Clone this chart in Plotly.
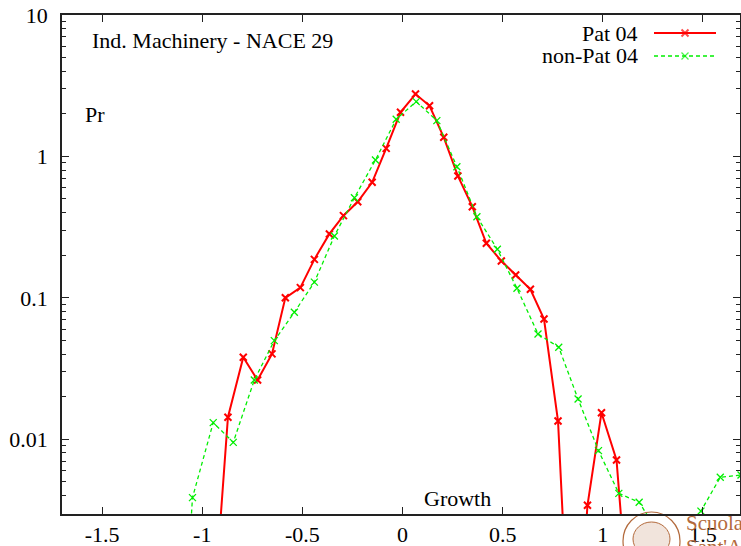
import plotly.graph_objects as go

# ---------------- data ----------------
pat_x = [-0.9405, -0.8715, -0.795, -0.7235, -0.6515, -0.585, -0.51, -0.44, -0.365, -0.295,
         -0.2235, -0.1515, -0.0815, -0.01, 0.065, 0.135, 0.206, 0.2765, 0.3485, 0.4185,
         0.4935, 0.565, 0.6385, 0.7065, 0.7765, 0.85, 0.9235, 0.9935, 1.0685, 1.14]
pat_y = [0.00065, 0.0143, 0.0380, 0.0262, 0.0401, 0.100, 0.118, 0.187, 0.283, 0.381,
         0.478, 0.656, 1.14, 2.05, 2.76, 2.28, 1.365, 0.727, 0.441, 0.243,
         0.182, 0.145, 0.1148, 0.0708, 0.01345, 0.0001, 0.00341, 0.0154, 0.00713, 0.00038]

nonpat_x = [-1.15, -1.0485, -0.945, -0.845, -0.74, -0.64, -0.54, -0.44, -0.34, -0.24,
            -0.135, -0.0315, 0.0685, 0.1715, 0.2715, 0.3715, 0.4735, 0.5715, 0.6765, 0.78,
            0.8765, 0.9785, 1.08, 1.1815, 1.285, 1.385, 1.49, 1.5865, 1.69]
nonpat_y = [0.00002, 0.00386, 0.0131, 0.0095, 0.0262, 0.0498, 0.079, 0.129, 0.2735, 0.5105,
            0.943, 1.83, 2.44, 1.79, 0.846, 0.3746, 0.2203, 0.1167, 0.0555, 0.0447,
            0.01925, 0.0083, 0.00414, 0.00358, 0.0021, 0.0017, 0.0031, 0.00538, 0.00558]

x_tickvals = [-1.5, -1, -0.5, 0, 0.5, 1, 1.5]
x_ticktext = ["-1.5", "-1", "-0.5", "0", "0.5", "1", "1.5"]
y_tickvals = [0.01, 0.1, 1, 10]
y_ticktext = ["0.01", "0.1", "1", "10"]

series_names = ["Pat 04", "non-Pat 04"]
title_text = "Ind. Machinery - NACE 29"
ylabel_text = "Pr"
xlabel_text = "Growth"

# ---------------- layout geometry (pixels) ----------------
W, H = 741, 546
PL, PR, PT, PB = 62, 740, 15, 514
FONT = "Liberation Serif, Times New Roman, DejaVu Serif, serif"
RED = "#ff0000"
GREEN = "#00ee00"
BROWN = "#b36a3c"


def pxx(x):
    return (x - PL) / (PR - PL)


def pxy(y):
    return (PB - y) / (PB - PT)


fig = go.Figure()

fig.add_trace(go.Scatter(
    x=pat_x, y=pat_y, mode="lines+markers", name=series_names[0],
    line=dict(color=RED, width=2),
    marker=dict(symbol="x-thin", size=7, line=dict(color=RED, width=2)),
    showlegend=False))

fig.add_trace(go.Scatter(
    x=nonpat_x, y=nonpat_y, mode="lines+markers", name=series_names[1],
    line=dict(color=GREEN, width=1.3, dash="4px,3px"),
    marker=dict(symbol="x-thin", size=7, line=dict(color=GREEN, width=1.3)),
    showlegend=False))

# legend keys on a pixel-mapped overlay axis
key_x = [654, 685, 716]
for yk, col, w, dash in [(33, RED, 2, "solid"), (56, GREEN, 1.3, "4px,3px")]:
    fig.add_trace(go.Scatter(
        x=key_x, y=[yk] * 3, xaxis="x2", yaxis="y2", mode="lines+markers",
        line=dict(color=col, width=w, dash=dash),
        marker=dict(symbol="x-thin", size=[0, 7, 0], line=dict(color=col, width=w)),
        showlegend=False, hoverinfo="skip"))

axis_common = dict(
    showline=True, linecolor="#222", linewidth=1.5, mirror="allticks",
    ticks="inside", ticklen=7, tickwidth=1, tickcolor="#222",
    showgrid=False, zeroline=False, automargin=False,
    tickfont=dict(family=FONT, size=22, color="black"),
)

fig.update_layout(
    width=W, height=H,
    margin=dict(l=PL, r=W - PR, t=PT, b=H - PB, pad=0, autoexpand=False),
    paper_bgcolor="white", plot_bgcolor="white",
    showlegend=False,
    font=dict(family=FONT),
    xaxis=dict(range=[-1.7, 1.685], tickvals=x_tickvals, ticktext=x_ticktext,
               ticklabelstandoff=0, **axis_common),
    yaxis=dict(type="log", range=[-2.529, 1], tickvals=y_tickvals, ticktext=y_ticktext,
               ticklabelstandoff=8,
               minor=dict(ticks="inside", ticklen=4, tickwidth=1, tickcolor="#222",
                          dtick="D1", showgrid=False),
               **axis_common),
    xaxis2=dict(overlaying="x", range=[PL, PR], visible=False, anchor="y2"),
    yaxis2=dict(overlaying="y", range=[PB, PT], visible=False, anchor="x2"),
)

ann_font = dict(family=FONT, size=22, color="black")
annotations = [
    dict(text=title_text, x=pxx(90), y=pxy(40), xanchor="left", yanchor="middle"),
    dict(text=ylabel_text, x=pxx(83), y=pxy(115), xanchor="left", yanchor="middle"),
    dict(text=xlabel_text, x=pxx(457.5), y=pxy(498), xanchor="center", yanchor="middle"),
    dict(text=series_names[0], x=pxx(640), y=pxy(33), xanchor="right", yanchor="middle"),
    dict(text=series_names[1], x=pxx(640), y=pxy(55.5), xanchor="right", yanchor="middle"),
]
for a in annotations:
    fig.add_annotation(xref="paper", yref="paper", showarrow=False, font=ann_font, **a)

# logo watermark (partially visible at bottom-right)
fig.add_shape(type="circle", xref="paper", yref="paper",
              x0=pxx(623), x1=pxx(680), y0=pxy(570), y1=pxy(512),
              line=dict(color=BROWN, width=1.2), layer="below")
fig.add_shape(type="circle", xref="paper", yref="paper",
              x0=pxx(633), x1=pxx(670), y0=pxy(556), y1=pxy(522),
              line=dict(color=BROWN, width=1), fillcolor="rgba(179,106,60,0.18)", layer="below")
fig.add_annotation(xref="paper", yref="paper", showarrow=False, text="Scuola",
                   x=pxx(684), y=pxy(523), xanchor="left", yanchor="middle",
                   font=dict(family=FONT, size=21, color=BROWN))
fig.add_annotation(xref="paper", yref="paper", showarrow=False, text="Sant'Anna",
                   x=pxx(684), y=pxy(547), xanchor="left", yanchor="middle",
                   font=dict(family=FONT, size=21, color=BROWN))

fig.write_html("out.html")
